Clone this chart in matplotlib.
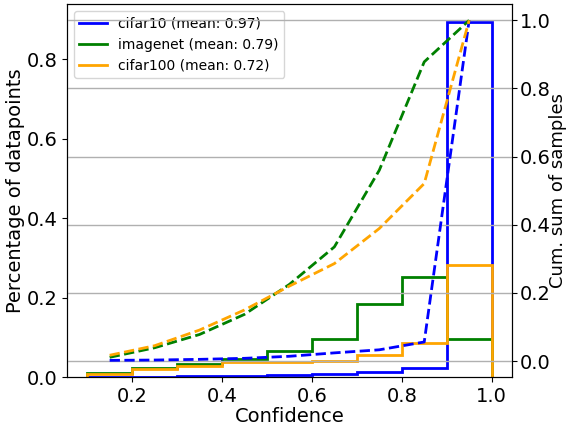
import numpy as np
import matplotlib.pyplot as plt

# bin edges of the confidence histogram
edges = [0.1, 0.2, 0.3, 0.4, 0.5, 0.6, 0.7, 0.8, 0.9, 1.0]
centers = [0.15, 0.25, 0.35, 0.45, 0.55, 0.65, 0.75, 0.85, 0.95]

labels = ["cifar10 (mean: 0.97)", "imagenet (mean: 0.79)", "cifar100 (mean: 0.72)"]
colors = ["blue", "green", "orange"]

# percentage of datapoints per bin
cifar10_pct = [0.001, 0.001, 0.002, 0.003, 0.006, 0.008, 0.013, 0.023, 0.894]
imagenet_pct = [0.010, 0.023, 0.032, 0.045, 0.065, 0.096, 0.184, 0.253, 0.096]
cifar100_pct = [0.007, 0.021, 0.028, 0.037, 0.038, 0.041, 0.056, 0.087, 0.283]

# cumulative sum of samples (right axis)
cifar10_cum = [0.002, 0.003, 0.005, 0.008, 0.014, 0.024, 0.033, 0.056, 1.0]
imagenet_cum = [0.011, 0.039, 0.078, 0.137, 0.225, 0.335, 0.56, 0.878, 1.0]
cifar100_cum = [0.017, 0.045, 0.091, 0.150, 0.220, 0.286, 0.389, 0.521, 1.0]


def main():
    fig, ax = plt.subplots(figsize=(5.7, 4.28), dpi=100)
    ax2 = ax.twinx()

    pcts = [cifar10_pct, imagenet_pct, cifar100_pct]
    cums = [cifar10_cum, imagenet_cum, cifar100_cum]
    for pct, cum, lab, col in zip(pcts, cums, labels, colors):
        ax.stairs(pct, edges, color=col, linewidth=2, label=lab)
        ax2.plot(centers, cum, color=col, linestyle="--", linewidth=2)

    ax.set_xlim(0.055, 1.045)
    ax.set_ylim(0, 0.939)
    ax2.set_ylim(-0.047, 1.047)
    ax2.yaxis.grid(True, color="#b0b0b0", linewidth=1)

    ax.set_xlabel("Confidence", fontsize=14, labelpad=1)
    ax.set_ylabel("Percentage of datapoints", fontsize=14)
    ax2.set_ylabel("Cum. sum of samples", fontsize=13)
    ax.yaxis.set_label_coords(-0.094, 0.5)
    ax2.yaxis.set_label_coords(1.084, 0.5)
    ax.tick_params(labelsize=14)
    ax2.tick_params(labelsize=14, pad=2)
    ax.legend(loc="upper left", fontsize=10)

    fig.subplots_adjust(left=0.1175, right=0.898, top=0.99, bottom=0.119)
    fig.savefig("out.png")


if __name__ == "__main__":
    main()
